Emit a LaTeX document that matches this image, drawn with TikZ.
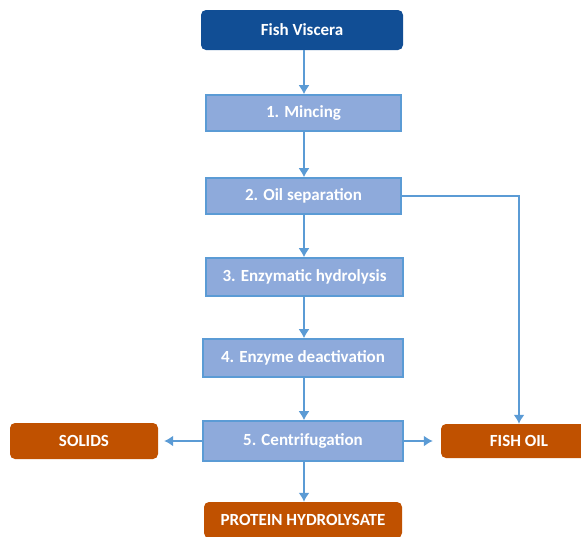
\documentclass[tikz,border=0pt]{standalone}
\usepackage{fontspec}
\setmainfont{Carlito}
\usepackage{tikz}
\usetikzlibrary{arrows, arrows.meta}

\definecolor{darkblue}{HTML}{114E95}
\definecolor{stepfill}{HTML}{8EAADB}
\definecolor{stepline}{HTML}{5B9BD5}
\definecolor{product}{HTML}{C05100}

\begin{document}
\begin{tikzpicture}[x=1pt, y=-1pt]
\tikzstyle{source} = [fill=darkblue, rounded corners=5pt, text=white, font=\bfseries\fontsize{17}{19}\selectfont, minimum width=202pt, minimum height=40pt, inner sep=0pt]
\tikzstyle{stage} = [fill=stepfill, draw=stepline, line width=1.6pt, text=white, font=\bfseries\fontsize{17}{19}\selectfont, minimum height=36pt, inner sep=0pt]
\tikzstyle{product} = [fill=product, rounded corners=5pt, text=white, font=\bfseries\fontsize{17}{19}\selectfont, minimum height=36pt, inner sep=0pt]
\tikzstyle{flow} = [draw=stepline, line width=1.6pt, -{Latex[length=9pt, width=11pt]}]

\clip (0,0) rectangle (581,536);
\useasboundingbox (0,0) rectangle (581,536);

\node[source] (visc) at (302, 30) {Fish Viscera};
\node[stage, minimum width=195pt] (minc) at (303.5, 113) {1. Mincing};
\node[stage, minimum width=195pt] (oil) at (303.5, 196) {2. Oil separation};
\node[stage, minimum width=197pt, minimum height=38pt] (enz) at (304.5, 277) {3. Enzymatic hydrolysis};
\node[stage, minimum width=200pt, minimum height=38pt] (deact) at (303, 358) {4. Enzyme deactivation};
\node[stage, minimum width=200pt, minimum height=40pt] (cent) at (303, 441) {5. Centrifugation};

\node[product, minimum width=148pt] (solids) at (84, 441) {SOLIDS};
\node[product, minimum width=156pt, minimum height=34pt] (fishoil) at (519, 441) {FISH OIL};
\node[product, minimum width=198pt] (protein) at (303, 520) {PROTEIN HYDROLYSATE};

\coordinate (trunk) at (304, 0);
\draw[flow] (trunk |- visc.south) -- (trunk |- minc.north);
\draw[flow] (trunk |- minc.south) -- (trunk |- oil.north);
\draw[flow] (trunk |- oil.south) -- (trunk |- enz.north);
\draw[flow] (trunk |- enz.south) -- (trunk |- deact.north);
\draw[flow] (trunk |- deact.south) -- (trunk |- cent.north);
\draw[flow] (trunk |- cent.south) -- (trunk |- protein.north);
\draw[flow] (oil.east) -| (fishoil.north);
\draw[flow, shorten >=6pt] (cent.west) -- (solids.east);
\draw[flow, shorten >=8pt] (cent.east) -- (fishoil.west);

\end{tikzpicture}
\end{document}
